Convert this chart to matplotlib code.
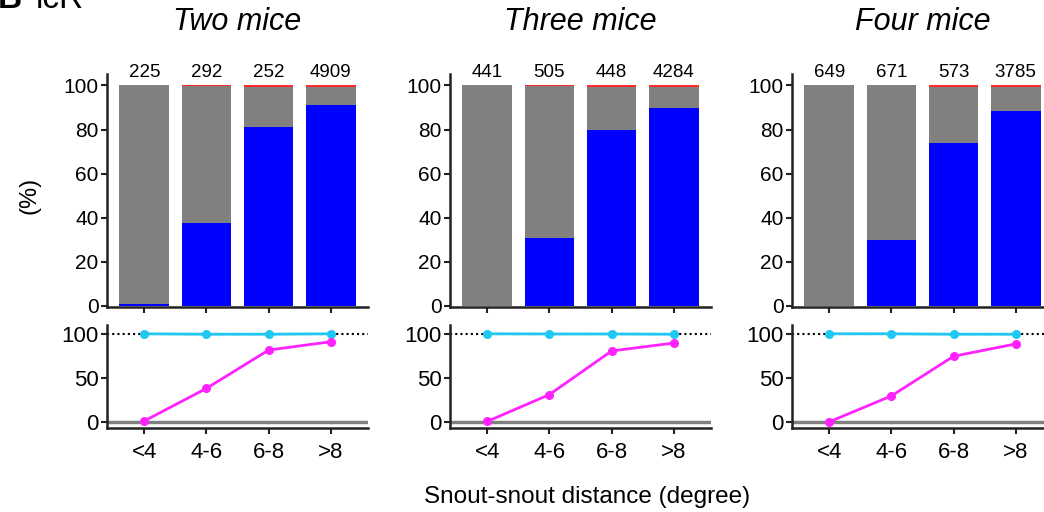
import matplotlib
matplotlib.use("Agg")
import matplotlib.pyplot as plt
import numpy as np

plt.rcParams["font.family"] = ["Liberation Sans", "DejaVu Sans"]

categories = ["<4", "4-6", "6-8", ">8"]
titles = ["Two mice", "Three mice", "Four mice"]
counts = [[225, 292, 252, 4909],
          [441, 505, 448, 4284],
          [649, 671, 573, 3785]]
# stacked percentages per distance bin
blue_pct = [[0.8, 37.8, 81.0, 91.0],
            [0.0, 31.0, 80.0, 89.6],
            [0.0, 29.7, 74.0, 88.3]]
red_pct = [[0.0, 0.4, 0.8, 0.5],
           [0.0, 0.4, 0.5, 0.7],
           [0.0, 0.0, 0.6, 0.6]]
# lower panels
cyan_vals = [[100.0, 99.5, 99.5, 100.0],
             [100.0, 99.8, 99.8, 99.5],
             [100.0, 100.0, 99.5, 99.5]]
magenta_vals = [[1.0, 38.0, 81.5, 91.0],
                [0.5, 31.0, 80.5, 89.5],
                [0.0, 29.5, 74.5, 88.5]]

W, H = 1044, 512
fig = plt.figure(figsize=(W / 100, H / 100), dpi=100)

BLUE = "#0000ff"
GRAY = "#808080"
RED = "#ff2a2a"
CYAN = "#1ec8f0"
MAGENTA = "#ff22ff"
SPINE = "#222222"

lefts_px = [107, 450, 792]
ax_w = 261 / W
x = np.arange(len(categories))


def style(ax, ysize):
    for s in ["top", "right"]:
        ax.spines[s].set_visible(False)
    for s in ["left", "bottom"]:
        ax.spines[s].set_color(SPINE)
        ax.spines[s].set_linewidth(1.8)
    ax.tick_params(axis="both", direction="out", length=4, width=1.5,
                   color=SPINE, pad=2)
    ax.tick_params(axis="y", labelsize=ysize)
    ax.set_xlim(-0.6, 3.6)
    ax.set_xticks(x)


for i in range(3):
    left = lefts_px[i] / W
    top_ax = fig.add_axes([left, 1 - 307 / H, ax_w, 233.5 / H])
    bot_ax = fig.add_axes([left, 1 - 428 / H, ax_w, 103 / H])

    b = np.array(blue_pct[i])
    r = np.array(red_pct[i])
    g = 100 - b - r
    top_ax.bar(x, b, width=0.8, color=BLUE, linewidth=0)
    top_ax.bar(x, g, bottom=b, width=0.8, color=GRAY, linewidth=0)
    top_ax.bar(x, r, bottom=b + g, width=0.8, color=RED, linewidth=0)
    for xi, c in zip(x, counts[i]):
        top_ax.text(xi, 104, str(c), ha="center", va="baseline",
                    fontsize=13.5, clip_on=False)
    style(top_ax, 15)
    top_ax.set_ylim(-0.5, 105.4)
    top_ax.set_yticks([0, 20, 40, 60, 80, 100])
    top_ax.set_xticklabels([])

    bot_ax.axhline(0, color=GRAY, lw=2.5, zorder=1)
    bot_ax.axhline(100, color="black", lw=1.5, ls=(0, (1, 1.5)), zorder=1)
    bot_ax.plot(x, cyan_vals[i], color=CYAN, lw=2, marker="o", ms=5.5, zorder=3)
    bot_ax.plot(x, magenta_vals[i], color=MAGENTA, lw=2, marker="o", ms=5.5, zorder=3)
    style(bot_ax, 16)
    bot_ax.set_ylim(-7, 110)
    bot_ax.set_yticks([0, 50, 100])
    bot_ax.set_xticklabels(categories, fontsize=16)
    bot_ax.tick_params(axis="x", pad=6)

    fig.text(left + ax_w / 2, 1 - 22 / H, titles[i], ha="center", va="center",
             fontsize=22, style="italic")

fig.text(30 / W, 1 - 195 / H, "(%)", rotation=90, ha="center", va="center",
         fontsize=17)
fig.text(587 / W, 1 - 497 / H, "Snout-snout distance (degree)", ha="center",
         va="center", fontsize=17.5)
fig.text(-2 / W, 1 - 8 / H, "B", fontsize=24, fontweight="bold", va="baseline")
fig.text(36 / W, 1 - 8 / H, "icR", fontsize=24, va="baseline")

fig.savefig("out.png", dpi=100)
